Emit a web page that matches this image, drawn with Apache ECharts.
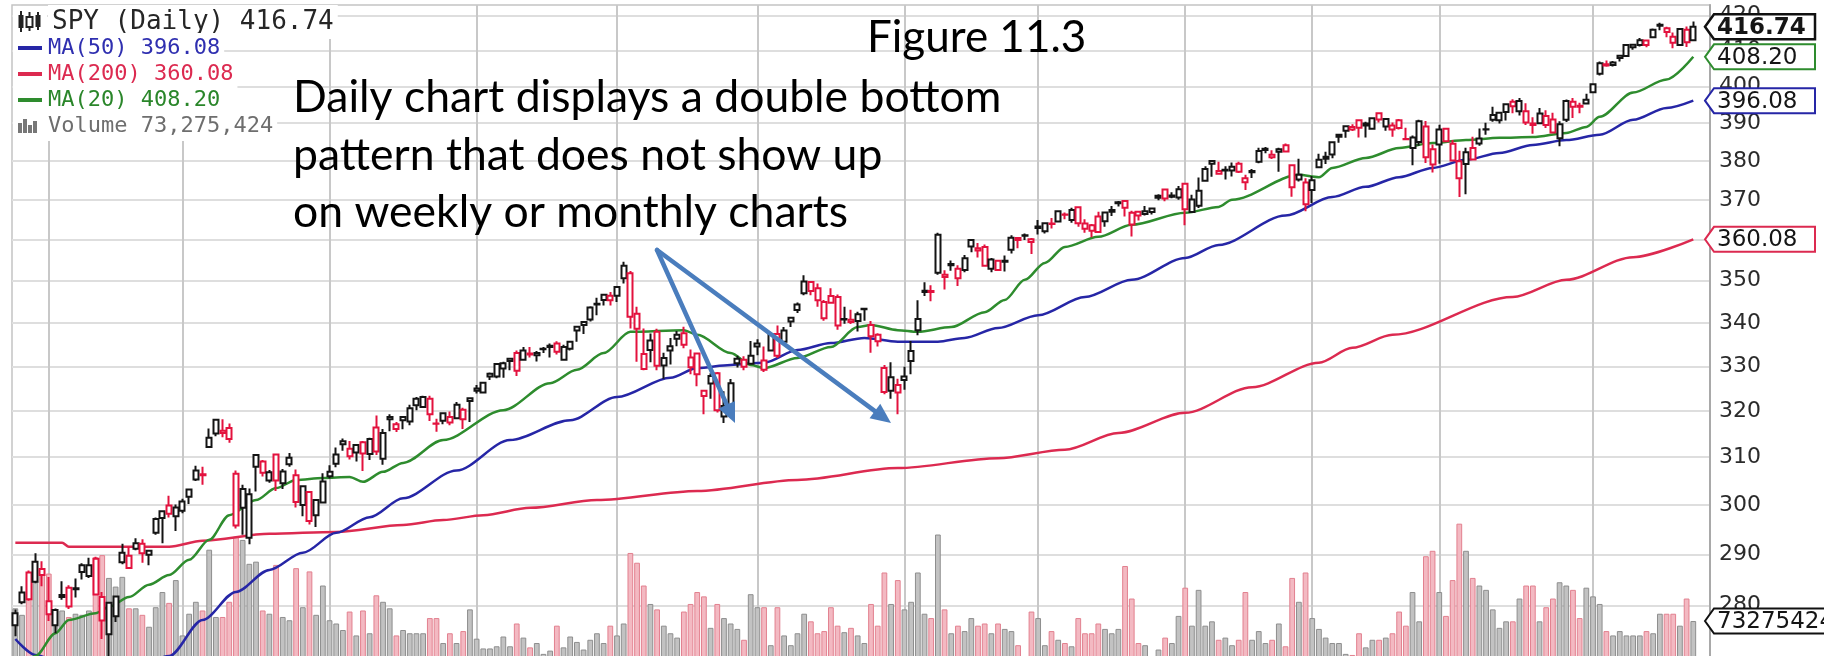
<!DOCTYPE html>
<html lang="en">
<head>
<meta charset="utf-8">
<title>SPY Daily - Figure 11.3</title>
<script src="https://cdn.jsdelivr.net/npm/echarts@6/dist/echarts.min.js"></script>
<style>
  html, body { margin: 0; padding: 0; background: #fff; }
  #chart { width: 1824px; height: 656px; }
</style>
</head>
<body>
<div id="chart"></div>
<script>
// trading sessions on the chart, grouped by month
const MONTH_DAYS = [
  ['2020-04', [24, 27, 28, 29, 30]],
  ['2020-05', [1, 4, 5, 6, 7, 8, 11, 12, 13, 14, 15, 18, 19, 20, 21, 22, 26, 27, 28, 29]],
  ['2020-06', [1, 2, 3, 4, 5, 8, 9, 10, 11, 12, 15, 16, 17, 18, 19, 22, 23, 24, 25, 26, 29, 30]],
  ['2020-07', [1, 2, 6, 7, 8, 9, 10, 13, 14, 15, 16, 17, 20, 21, 22, 23, 24, 27, 28, 29, 30, 31]],
  ['2020-08', [3, 4, 5, 6, 7, 10, 11, 12, 13, 14, 17, 18, 19, 20, 21, 24, 25, 26, 27, 28, 31]],
  ['2020-09', [1, 2, 3, 4, 8, 9, 10, 11, 14, 15, 16, 17, 18, 21, 22, 23, 24, 25, 28, 29, 30]],
  ['2020-10', [1, 2, 5, 6, 7, 8, 9, 12, 13, 14, 15, 16, 19, 20, 21, 22, 23, 26, 27, 28, 29, 30]],
  ['2020-11', [2, 3, 4, 5, 6, 9, 10, 11, 12, 13, 16, 17, 18, 19, 20, 23, 24, 25, 27, 30]],
  ['2020-12', [1, 2, 3, 4, 7, 8, 9, 10, 11, 14, 15, 16, 17, 18, 21, 22, 23, 24, 28, 29, 30, 31]],
  ['2021-01', [4, 5, 6, 7, 8, 11, 12, 13, 14, 15, 19, 20, 21, 22, 25, 26, 27, 28, 29]],
  ['2021-02', [1, 2, 3, 4, 5, 8, 9, 10, 11, 12, 16, 17, 18, 19, 22, 23, 24, 25, 26]],
  ['2021-03', [1, 2, 3, 4, 5, 8, 9, 10, 11, 12, 15, 16, 17, 18, 19, 22, 23, 24, 25, 26, 29, 30, 31]],
  ['2021-04', [1, 5, 6, 7, 8, 9, 12, 13, 14, 15, 16, 19, 20, 21, 22, 23]]
];
// empty room stockcharts leaves on the right
const PAD_DAYS = ['2021-04-26', '2021-04-27'];

// SPY daily, dividend adjusted: [open, high, low, close]
const OHLC = [
  [276.2,279.2,274.1,278.5],[280.6,283.7,280.2,282.5],[286.4,286.8,280.9,281.2],[284.6,290.2,284.3,288.5],[287.1,288.6,283.7,285.9],
  // may
  [280.8,285.5,277.0,278.3],[276.2,279.4,274.7,279.1],[282.0,284.7,281.1,281.6],[283.4,283.9,279.3,279.8],[283.3,285.2,281.5,283.1],
  [286.5,288.2,285.0,287.8],[285.7,289.3,285.3,287.8],[289.1,289.5,281.9,282.1],[281.6,282.6,273.6,277.1],[274.5,280.6,268.6,280.5],
  [277.9,281.7,276.8,281.7],[288.4,292.1,288.0,290.3],[289.7,291.5,287.3,287.3],[291.1,293.2,290.8,292.2],[292.1,293.0,288.3,290.2],
  [289.9,290.9,287.8,290.7],[297.1,297.4,293.9,294.3],[297.3,298.8,292.2,298.7],[299.9,301.9,297.4,298.2],[297.7,300.1,294.7,299.5],
  // jun
  [298.8,301.3,298.3,300.7],[301.7,303.2,300.2,303.2],[305.3,308.2,305.0,307.2],[306.2,308.0,304.2,306.4],[312.2,316.2,312.0,314.2],
  [315.1,318.3,314.5,318.1],[315.2,318.2,314.3,315.7],[316.3,317.3,313.1,313.9],[306.5,307.2,295.2,295.8],[303.3,304.2,293.9,299.4],
  [293.3,303.4,292.0,302.2],[310.5,310.6,302.8,308.0],[309.1,309.4,305.9,306.7],[305.1,307.3,304.6,306.8],[310.6,310.8,302.9,305.1],
  [304.5,307.5,303.3,307.0],[309.9,310.9,308.0,308.5],[306.2,307.4,299.5,300.6],[300.0,304.1,297.7,303.9],[302.7,302.9,296.0,296.7],
  [297.9,301.1,295.5,301.0],[300.5,306.6,300.3,304.9],
  // jul
  [306.0,308.3,305.5,306.9],[310.6,312.1,307.9,308.6],[312.8,314.0,311.4,313.4],[311.8,313.5,309.5,310.2],[311.0,312.7,309.1,312.6],
  [313.2,313.5,307.1,310.8],[310.7,314.2,309.4,313.9],[316.4,319.0,310.5,311.2],[309.7,316.1,308.4,315.2],[318.7,319.3,315.6,318.2],
  [316.1,317.6,315.4,317.1],[318.7,318.9,316.0,318.0],[317.7,321.4,316.9,320.6],[322.7,323.1,320.2,321.3],[320.9,323.4,320.8,323.1],
  [322.7,323.4,317.8,319.3],[317.3,318.3,315.5,317.2],[317.9,319.7,317.1,319.5],[318.7,319.9,316.9,317.5],[318.4,322.0,318.4,321.4],
  [318.2,320.7,316.1,320.3],[322.2,322.9,317.6,322.8],
  // aug
  [324.5,325.8,323.9,325.0],[324.1,326.3,324.1,326.3],[327.7,328.6,326.9,328.3],[327.7,330.7,327.3,330.5],[329.5,331.0,327.4,330.7],
  [331.2,331.9,329.1,331.7],[333.0,333.6,327.8,329.0],[331.5,334.4,331.3,333.6],[332.7,334.4,332.0,332.9],[332.5,333.5,331.1,333.0],
  [333.9,334.4,333.0,334.0],[334.4,335.2,332.0,334.7],[335.2,335.7,332.7,333.3],[331.5,334.9,331.3,334.4],[334.0,335.8,333.6,335.6],
  [338.2,339.1,335.6,339.1],[339.5,340.2,337.4,340.2],[340.8,343.9,340.3,343.6],[344.5,345.9,341.8,344.3],[345.4,346.7,344.1,346.6],
  [346.4,347.3,344.1,345.3],
  // sep
  [346.4,348.6,344.9,348.5],[350.6,354.6,349.3,353.6],[351.8,352.3,338.7,341.4],[342.1,343.8,331.0,338.6],[332.8,338.7,329.1,329.4],
  [333.7,337.5,330.9,335.9],[337.9,338.6,329.1,330.1],[331.9,333.1,327.2,330.2],[333.6,336.5,330.4,334.6],[337.2,338.1,334.6,336.3],
  [337.6,339.1,334.1,334.9],[329.8,333.8,328.2,332.0],[332.9,333.0,325.5,328.2],[323.3,324.6,319.3,324.5],[326.1,328.4,322.7,327.8],
  [328.4,328.7,319.7,320.2],[318.8,324.4,317.4,321.1],[320.2,327.1,319.2,326.2],[330.7,332.4,329.7,331.7],[331.5,332.3,329.1,329.9],
  [330.6,335.8,330.4,332.4],
  // oct
  [335.2,336.2,332.5,334.5],[329.2,334.5,328.7,331.3],[333.6,337.4,333.6,337.3],[337.4,339.4,331.9,332.4],[335.6,339.0,335.6,338.2],
  [340.3,341.4,339.0,341.2],[343.0,344.8,342.3,344.3],[347.0,351.3,346.5,349.8],[349.7,349.9,346.5,347.5],[348.2,349.3,343.8,345.3],
  [341.1,345.4,340.5,344.9],[346.3,348.2,344.5,344.7],[346.1,346.7,338.4,339.4],[340.9,343.8,339.8,340.8],[340.7,343.1,339.7,340.2],
  [340.4,342.6,338.0,342.0],[343.3,343.4,340.5,343.2],[339.5,340.4,333.1,336.9],[337.2,337.6,334.5,335.7],[329.6,330.3,323.7,324.2],
  [324.5,330.9,322.7,327.5],[325.8,327.2,319.3,324.1],
  // nov
  [326.9,329.9,324.7,327.7],[331.2,335.8,328.2,333.5],[338.3,345.3,337.1,340.9],[347.3,349.6,346.3,347.6],[347.3,348.9,345.1,347.5],
  [361.2,361.7,351.4,351.9],[350.9,352.5,347.9,351.4],[353.7,354.9,352.4,354.0],[352.9,353.7,348.7,350.6],[352.6,356.2,352.0,355.4],
  [358.3,360.1,356.9,359.9],[357.3,359.2,355.6,357.9],[358.2,358.8,353.5,353.6],[352.9,355.5,352.0,355.1],[354.8,355.0,352.5,352.6],
  [354.6,356.1,352.2,354.8],[357.5,361.1,356.6,360.5],[360.4,360.5,357.9,359.9],[361.1,361.5,359.9,361.0],[360.1,360.4,356.5,359.4],
  // dec
  [362.9,364.9,361.3,363.3],[362.1,364.2,361.5,364.1],[363.9,365.4,362.8,364.0],[364.5,367.1,364.4,367.1],[366.2,366.8,365.1,366.3],
  [364.9,368.0,364.2,367.4],[368.1,368.3,363.2,364.1],[362.7,365.1,361.7,364.0],[362.2,363.9,360.6,363.6],[365.8,367.0,361.8,361.9],
  [364.6,366.8,363.2,366.8],[367.0,368.4,365.9,367.4],[369.1,369.7,368.3,369.4],[369.7,369.9,365.8,368.0],[363.8,367.2,360.8,366.7],
  [367.0,367.1,364.8,366.0],[367.1,368.4,366.0,366.4],[366.9,367.8,366.3,367.8],[370.5,371.4,369.9,371.0],[372.6,372.8,369.6,370.3],
  [371.1,371.9,370.4,370.8],[370.6,373.5,370.0,372.7],
  // jan
  [374.1,374.3,363.6,367.6],[366.9,371.3,366.9,370.1],[368.5,375.7,367.9,372.3],[374.9,378.6,374.7,377.9],[379.3,380.2,375.9,380.0],
  [376.7,379.8,376.5,377.4],[377.7,378.6,375.2,377.5],[377.5,379.6,376.0,378.5],[379.3,379.8,376.9,377.2],[375.5,376.4,372.5,374.5],
  [377.1,377.9,375.6,377.4],[379.8,383.5,379.4,382.6],[383.2,383.7,382.0,382.9],[381.0,382.8,380.5,381.6],[382.4,383.5,377.2,383.1],
  [384.1,384.6,382.2,382.5],[378.9,379.0,370.8,373.2],[375.2,380.6,374.7,376.4],[374.4,375.5,367.1,368.9],
  // feb
  [372.5,376.1,369.2,375.0],[378.4,381.9,378.3,380.3],[381.1,382.4,379.2,380.6],[381.7,384.9,380.7,384.9],[386.9,387.2,384.8,386.4],
  [388.0,389.3,386.1,389.2],[388.3,389.7,387.9,389.0],[390.8,391.0,386.2,388.8],[389.9,390.4,386.2,389.4],[388.5,391.6,388.5,391.3],
  [392.7,392.9,390.2,391.0],[389.1,391.4,388.0,391.1],[388.3,390.2,386.4,389.4],[390.8,391.1,388.3,388.7],[385.8,388.8,385.6,385.7],
  [383.4,386.7,378.9,386.2],[385.0,390.9,384.0,390.5],[389.1,390.6,379.5,381.0],[383.1,384.3,377.0,379.1],
  // mar
  [384.3,389.6,379.3,388.3],[388.5,388.8,385.2,385.2],[384.5,385.5,380.0,380.1],[379.9,382.7,370.7,375.5],[379.2,383.5,371.4,382.3],
  [383.4,386.4,380.1,380.4],[384.6,388.6,384.0,385.9],[388.4,390.1,386.9,388.3],[390.9,394.4,390.4,392.2],[390.8,392.9,389.9,392.8],
  [393.0,395.4,390.7,395.1],[395.8,396.5,392.7,394.6],[393.2,396.8,392.1,396.0],[393.2,395.4,389.5,390.2],[389.9,391.6,387.2,389.5],
  [390.0,394.1,390.0,392.6],[391.9,393.5,388.7,389.5],[391.0,392.8,387.5,387.5],[386.0,390.5,383.9,389.7],[390.9,396.4,390.3,396.0],
  [394.4,396.8,391.4,395.8],[394.4,395.5,392.7,394.7],[395.3,398.0,395.2,396.3],
  // apr
  [398.4,400.7,398.2,400.6],[403.5,406.9,403.0,406.4],[405.8,407.2,405.4,406.1],[405.9,407.0,405.5,406.6],[407.9,408.6,406.9,408.5],
  [408.4,411.7,408.3,411.5],[410.9,411.9,410.2,411.6],[411.5,413.5,411.1,412.9],[412.8,413.0,410.9,411.5],[413.7,416.2,413.7,415.9],
  [417.0,417.9,415.7,417.3],[416.3,416.7,413.7,415.2],[413.9,415.1,410.6,412.2],[411.5,416.3,411.4,416.1],[415.9,416.8,411.0,412.3],
  [412.9,418.2,412.8,416.74]
];

// volume, millions of shares
const VOLUME_M = [
  85, 79, 114, 111, 119,
  117, 83, 83, 77, 80, 79, 83, 132, 134, 113, 105, 114, 85, 85, 79, 68, 86, 100, 90, 111,
  60, 80, 91, 83, 139, 77, 77, 91, 151, 148, 126, 128, 83, 80, 125, 77, 74, 122, 86, 119, 79, 106,
  74, 71, 65, 82, 60, 83, 62, 97, 91, 85, 60, 65, 62, 62, 62, 76, 76, 53, 62, 53, 64, 84,
  57, 48, 48, 50, 59, 50, 71, 58, 49, 53, 43, 46, 69, 49, 59, 54, 47, 56, 62, 53, 69,
  60, 71, 136, 127, 106, 89, 84, 69, 62, 58, 82, 89, 100, 96, 67, 89, 76, 71, 66, 56, 98,
  86, 86, 51, 86, 60, 51, 62, 80, 73, 62, 64, 86, 69, 63, 67, 60, 53, 89, 69, 118, 89, 111,
  84, 91, 118, 80, 76, 153, 84, 62, 69, 64, 76, 69, 71, 62, 71, 66, 64, 51, 36, 82,
  76, 51, 64, 56, 53, 50, 76, 62, 62, 71, 66, 62, 66, 124, 94, 53, 51, 32, 47, 58, 53, 78,
  104, 69, 102, 69, 73, 56, 58, 51, 56, 100, 56, 64, 53, 56, 71, 50, 113, 91, 118,
  76, 66, 58, 53, 53, 43, 42, 62, 49, 56, 56, 58, 62, 82, 69, 100, 73, 133, 138,
  100, 78, 111, 163, 138, 113, 106, 102, 84, 67, 73, 73, 94, 106, 106, 73, 86, 94, 109, 106, 102, 76, 104,
  96, 89, 64, 60, 64, 60, 60, 60, 64, 62, 80, 80, 80, 69, 94, 73.28
];
const LAST_VOLUME = 73275424;

// moving averages: [session index, value]
const MA20 = [
  [0, 266.0], [3, 270.4], [6, 274.7], [8, 277.2], [12, 278.5], [14, 279.7], [17, 281.6], [20, 284.0], [23, 285.9],
  [26, 288.9], [29, 292.9], [32, 297.9], [36, 301.0], [39, 303.5], [42, 305.2], [46, 305.6], [50, 305.8], [52, 304.8],
  [55, 306.9], [58, 308.8], [64, 313.7], [73, 320.2], [80, 326.2], [84, 329.2], [88, 333.0], [92, 337.9], [100, 338.3],
  [102, 337.2], [107, 333.0], [110, 330.3], [112, 329.6], [117, 331.9], [122, 334.4], [126, 339.0], [128, 339.5],
  [132, 338.3], [135, 337.9], [140, 339.0], [145, 342.5], [148, 345.4], [151, 350.2], [154, 354.3], [157, 358.2],
  [162, 360.7], [167, 363.7], [175, 366.7], [180, 368.2], [182, 370.0], [192, 376.4], [195, 375.8], [197, 378.2],
  [202, 380.8], [207, 383.4], [212, 384.7], [217, 385.5], [222, 386.1], [227, 386.3], [232, 387.4], [235, 389.0],
  [237, 391.7], [242, 398.3], [247, 401.9], [251, 408.20]
];
const MA50 = [
  [0, 273.6], [3, 270.6], [10, 267.0], [17, 268.0], [23, 270.4], [28, 277.2], [33, 282.6], [38, 286.9], [43, 290.3],
  [48, 294.3], [53, 297.5], [58, 301.4], [66, 307.2], [74, 313.7], [83, 318.0], [90, 323.1], [98, 327.4], [102, 329.6],
  [107, 330.3], [112, 330.8], [117, 333.7], [122, 335.3], [127, 336.5], [132, 335.6], [138, 335.6], [142, 336.5],
  [147, 338.8], [153, 341.8], [160, 346.1], [167, 350.2], [175, 355.5], [180, 358.7], [190, 366.0], [197, 370.7],
  [202, 373.3], [207, 375.8], [212, 378.2], [217, 380.3], [222, 382.1], [227, 384.2], [232, 385.5], [237, 386.9],
  [242, 390.9], [247, 394.1], [251, 396.08]
];
const MA200 = [
  [0, 292.3], [7, 292.3], [8, 291.5], [23, 291.5], [28, 292.7], [38, 294.1], [48, 294.5], [58, 295.9], [64, 296.9],
  [70, 297.9], [77, 299.4], [87, 301.0], [102, 302.9], [117, 305.2], [132, 307.7], [147, 309.8], [157, 311.6],
  [165, 315.2], [175, 319.6], [185, 325.3], [195, 330.8], [200, 334.2], [206, 337.2], [224, 346.1], [232, 350.2],
  [242, 355.7], [251, 360.08]
];

const PRICE_TICKS = [270, 280, 290, 300, 310, 320, 330, 340, 350, 360, 370, 380, 390, 400, 410, 420];
const NOTE_LINES = ['Daily chart displays a double bottom', 'pattern that does not show up', 'on weekly or monthly charts'];

const UP = '#141414';
const DOWN = '#e3123e';
const C_MA20 = '#2e8c2e';
const C_MA50 = '#2626a6';
const C_MA200 = '#dc2a50';
const ARROW = '#4a7dbd';

const pad2 = (n) => String(n).padStart(2, '0');
const dates = [];
MONTH_DAYS.forEach(([ym, days]) => days.forEach((d) => dates.push(ym + '-' + pad2(d))));
const categories = dates.concat(PAD_DAYS);
const monthStarts = MONTH_DAYS.slice(1).map(([ym, days]) => ym + '-' + pad2(days[0]));

// stockcharts colouring: black/red vs previous close, hollow when close > open
const candleData = OHLC.map(([o, h, l, c], i) => {
  const prev = i ? OHLC[i - 1][3] : o;
  const col = c >= prev ? UP : DOWN;
  return {
    value: [o, c, l, h],
    itemStyle: { color: '#ffffff', color0: col, borderColor: col, borderColor0: col }
  };
});

const volumeData = VOLUME_M.map((v, i) => {
  const down = i > 0 && OHLC[i][3] < OHLC[i - 1][3];
  return {
    value: v,
    itemStyle: down
      ? { color: '#f3b9c2', borderColor: '#e2808f' }
      : { color: '#c2c2c2', borderColor: '#8e8e8e' }
  };
});

const lastOf = (arr) => arr[arr.length - 1][1];

const option = {
  animation: false,
  backgroundColor: '#ffffff',
  textStyle: { fontFamily: 'DejaVu Sans' },
  grid: {
    left: 12, right: 114, top: 5, bottom: -2,
    outerBoundsMode: 'none',
    show: true, borderColor: '#c4c4c4', borderWidth: 1.5
  },
  xAxis: {
    type: 'category',
    data: categories,
    boundaryGap: true,
    axisLine: { show: false },
    axisTick: { show: false },
    axisLabel: { show: false },
    splitLine: { show: false }
  },
  yAxis: [
    {
      type: 'log',
      logBase: 10,
      min: 270.05,
      max: 423.0,
      position: 'right',
      axisLine: { show: true, lineStyle: { color: '#a9a9a9', width: 2 } },
      axisTick: { show: false },
      axisLabel: { show: false },
      splitLine: { show: false }
    },
    { type: 'value', min: 39.2, max: 641, show: false }
  ],
  series: [
    {
      name: 'Volume',
      type: 'bar',
      yAxisIndex: 1,
      z: 1,
      silent: true,
      barCategoryGap: '14%',
      itemStyle: { borderWidth: 1 },
      data: volumeData
    },
    {
      name: 'MA(200)',
      type: 'line',
      yAxisIndex: 0,
      z: 2,
      silent: true,
      showSymbol: false,
      smooth: 0.3,
      smoothMonotone: 'x',
      lineStyle: { color: C_MA200, width: 2.5 },
      itemStyle: { color: C_MA200 },
      data: MA200
    },
    {
      name: 'MA(50)',
      type: 'line',
      yAxisIndex: 0,
      z: 2,
      silent: true,
      showSymbol: false,
      smooth: 0.3,
      smoothMonotone: 'x',
      lineStyle: { color: C_MA50, width: 2.5 },
      itemStyle: { color: C_MA50 },
      data: MA50
    },
    {
      name: 'MA(20)',
      type: 'line',
      yAxisIndex: 0,
      z: 2,
      silent: true,
      showSymbol: false,
      smooth: 0.3,
      smoothMonotone: 'x',
      lineStyle: { color: C_MA20, width: 2.5 },
      itemStyle: { color: C_MA20 },
      data: MA20
    },
    {
      name: 'SPY (Daily)',
      type: 'candlestick',
      yAxisIndex: 0,
      z: 3,
      silent: true,
      barWidth: 5.5,
      itemStyle: { borderWidth: 2 },
      data: candleData,
      markLine: {
        silent: true,
        z: 0,
        animation: false,
        symbol: ['none', 'none'],
        label: {
          show: true,
          position: 'end',
          distance: 9,
          color: '#2b2b2b',
          fontFamily: 'DejaVu Sans',
          fontSize: 22,
          formatter: (p) => String(p.value)
        },
        lineStyle: { color: '#dedede', width: 2, type: 'solid' },
        emphasis: { disabled: true },
        data: PRICE_TICKS.map((v) => ({ yAxis: v })).concat(
          monthStarts.map((d) => ({
            xAxis: d,
            label: { show: false },
            lineStyle: { color: '#c8c8c8', width: 2, type: 'solid' }
          }))
        )
      }
    }
  ]
};

const chart = echarts.init(document.getElementById('chart'), null, { renderer: 'canvas' });
chart.setOption(option);

// ---- overlays: legend block, price tags, slide annotations ----
const yPrice = (v) => chart.convertToPixel({ yAxisIndex: 0 }, v);
const yVol = (v) => chart.convertToPixel({ yAxisIndex: 1 }, v);

const MONO = 'DejaVu Sans Mono';
const legendText = (x, y, text, color, size) => ({
  type: 'text', x, y, z: 100,
  style: {
    text, fill: color, font: size + 'px "' + MONO + '"', verticalAlign: 'middle',
    backgroundColor: '#ffffff', padding: [4, 4, 4, 4]
  }
});

const lastClose = OHLC[OHLC.length - 1][3];
const legend = [
  { type: 'rect', z: 99, shape: { x: 13, y: 6, width: 34, height: 134 }, style: { fill: '#ffffff' } },
  // little candle glyph
  { type: 'line', z: 100, shape: { x1: 21, y1: 11, x2: 21, y2: 32 }, style: { stroke: '#222', lineWidth: 2 } },
  { type: 'rect', z: 100, shape: { x: 18.5, y: 15, width: 5, height: 13 }, style: { fill: '#222' } },
  { type: 'line', z: 100, shape: { x1: 29.5, y1: 12, x2: 29.5, y2: 31 }, style: { stroke: '#222', lineWidth: 2 } },
  { type: 'rect', z: 101, shape: { x: 26.5, y: 17, width: 6, height: 10 }, style: { fill: '#fff', stroke: '#222', lineWidth: 2 } },
  { type: 'line', z: 100, shape: { x1: 38, y1: 12, x2: 38, y2: 30 }, style: { stroke: '#222', lineWidth: 2 } },
  { type: 'rect', z: 100, shape: { x: 35.5, y: 15, width: 5, height: 12 }, style: { fill: '#222' } },
  legendText(48, 22, 'SPY (Daily) ' + lastClose.toFixed(2), '#262626', 26),
  { type: 'rect', z: 100, shape: { x: 18, y: 46, width: 24, height: 4 }, style: { fill: C_MA50 } },
  legendText(44, 48, 'MA(50) ' + lastOf(MA50).toFixed(2), '#2f2fb0', 22),
  { type: 'rect', z: 100, shape: { x: 18, y: 72, width: 24, height: 4 }, style: { fill: C_MA200 } },
  legendText(44, 74, 'MA(200) ' + lastOf(MA200).toFixed(2), '#dc2a50', 22),
  { type: 'rect', z: 100, shape: { x: 18, y: 98, width: 24, height: 4 }, style: { fill: C_MA20 } },
  legendText(44, 100, 'MA(20) ' + lastOf(MA20).toFixed(2), '#2a862a', 22),
  { type: 'rect', z: 100, shape: { x: 18, y: 123, width: 4, height: 10 }, style: { fill: '#777' } },
  { type: 'rect', z: 100, shape: { x: 23, y: 119, width: 4, height: 14 }, style: { fill: '#777' } },
  { type: 'rect', z: 100, shape: { x: 28, y: 125, width: 4, height: 8 }, style: { fill: '#777' } },
  { type: 'rect', z: 100, shape: { x: 33, y: 121, width: 4, height: 12 }, style: { fill: '#777' } },
  legendText(44, 126, 'Volume ' + LAST_VOLUME.toLocaleString('en-US'), '#6e6e6e', 22)
];

function priceTag(yc, text, stroke, bold, lw, right) {
  const x0 = 1705, x1 = right || 1815, h = 25, n = 9;
  return [
    {
      type: 'polygon', z: 110,
      shape: { points: [[x0, yc], [x0 + n, yc - h / 2], [x1, yc - h / 2], [x1, yc + h / 2], [x0 + n, yc + h / 2]] },
      style: { fill: '#ffffff', stroke, lineWidth: lw }
    },
    {
      type: 'text', x: x0 + 12, y: yc + 1, z: 111,
      style: { text, fill: '#151515', font: (bold ? 'bold ' : '') + '23px "DejaVu Sans"', verticalAlign: 'middle' }
    }
  ];
}

const tags = [].concat(
  priceTag(yPrice(lastOf(MA200)), lastOf(MA200).toFixed(2), C_MA200, false, 2),
  priceTag(yPrice(lastOf(MA50)), lastOf(MA50).toFixed(2), C_MA50, false, 2),
  priceTag(yPrice(lastOf(MA20)), lastOf(MA20).toFixed(2), C_MA20, false, 2),
  priceTag(yPrice(lastClose), lastClose.toFixed(2), '#111111', true, 2.5),
  priceTag(yVol(LAST_VOLUME / 1e6), String(LAST_VOLUME), '#111111', false, 2, 1850)
);

function arrow(from, to) {
  const dx = to[0] - from[0], dy = to[1] - from[1];
  const len = Math.hypot(dx, dy), ux = dx / len, uy = dy / len;
  const head = 20, half = 9;
  const bx = to[0] - ux * head, by = to[1] - uy * head;
  return [
    { type: 'line', z: 120, shape: { x1: from[0], y1: from[1], x2: bx, y2: by }, style: { stroke: ARROW, lineWidth: 4.5, lineCap: 'round' } },
    { type: 'polygon', z: 120, shape: { points: [to, [bx - uy * half, by + ux * half], [bx + uy * half, by - ux * half]] }, style: { fill: ARROW } }
  ];
}

const notes = [
  { type: 'text', x: 867, y: 38, z: 120, style: { text: 'Figure 11.3', fill: '#000', font: '44px Lato', verticalAlign: 'middle' } }
].concat(NOTE_LINES.map((t, i) => ({
  type: 'text', x: 293, y: 98 + i * 57.5, z: 120,
  style: { text: t, fill: '#000', font: '44.5px Lato', verticalAlign: 'middle' }
})));

const apex = [657, 250];
chart.setOption({
  graphic: legend.concat(tags, notes, arrow(apex, [735, 423]), arrow(apex, [891, 423]))
});
</script>
</body>
</html>
